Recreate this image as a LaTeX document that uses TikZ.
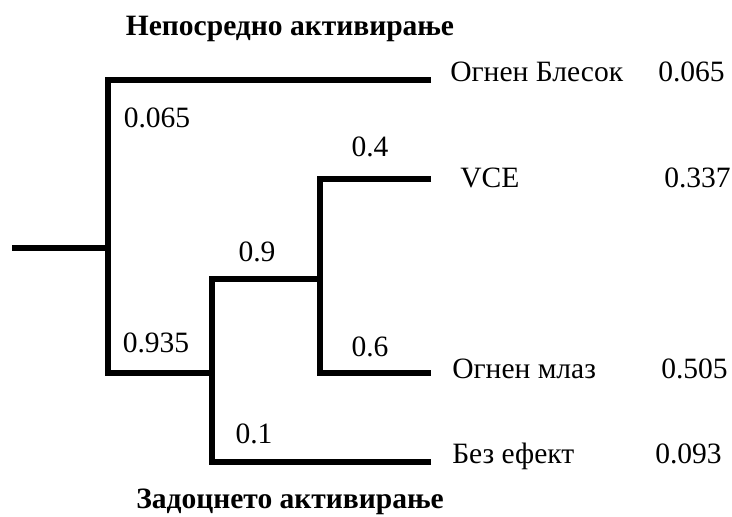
\documentclass[tikz,border=0pt]{standalone}
\usepackage{fontspec}
\setmainfont{LiberationSerif-Regular.ttf}[BoldFont=LiberationSerif-Bold.ttf]
\usetikzlibrary{positioning}

\begin{document}
\begin{tikzpicture}[
    branch/.style={line width=3.6pt},
    prob/.style={font=\fontsize{21}{25}\selectfont,anchor=base,inner sep=0pt},
    outcome/.style={font=\fontsize{21}{25}\selectfont,anchor=base west,inner sep=0pt},
    title/.style={font=\fontsize{21}{25}\selectfont\bfseries,anchor=base,inner sep=0pt}]
  \useasboundingbox (0,0) rectangle (18.3,12.9);
  % branch points and end points
  \coordinate (root) at (0.3,6.7);
  \coordinate (s1) at (2.7,6.7);
  \coordinate (s2) at (5.3,3.575);
  \coordinate (s3) at (8.0,5.925);
  \coordinate (end1) at (10.775,10.9);
  \coordinate (end2) at (10.775,8.425);
  \coordinate (end3) at (10.775,3.575);
  \coordinate (end4) at (10.775,1.35);
  \draw[branch] (root) -- (s1);
  \draw[branch] (end1) -| (s1) |- (s2);
  \draw[branch] (end4) -| (s2) |- (s3);
  \draw[branch] (end2) -| (s3) |- (end3);
  % probabilities
  \node[prob] (p1) at (3.925,9.7) {0.065};
  \node[prob] (p2) at (3.9,4.075) {0.935};
  \node[prob] (p3) at (6.425,6.35) {0.9};
  \node[prob] (p4) at (6.35,1.825) {0.1};
  \node[prob] (p5) at (9.25,8.975) {0.4};
  \node[prob] (p6) at (9.25,3.975) {0.6};
  % outcomes
  \node[outcome] (o1) at (11.25,10.85) {Огнен Блесок};
  \node[outcome] (o2) at (11.5,8.2) {VCE};
  \node[outcome] (o3) at (11.3,3.45) {Огнен млаз};
  \node[outcome] (o4) at (11.3,1.325) {Без ефект};
  \node[outcome] (v1) at (16.45,10.85) {0.065};
  \node[outcome] (v2) at (16.6,8.2) {0.337};
  \node[outcome] (v3) at (16.525,3.45) {0.505};
  \node[outcome] (v4) at (16.375,1.325) {0.093};
  % titles
  \node[title] (t1) at (7.25,12.0) {Непосредно активирање};
  \node[title] (t2) at (7.25,0.2) {Задоцнето активирање};
\end{tikzpicture}
\end{document}
